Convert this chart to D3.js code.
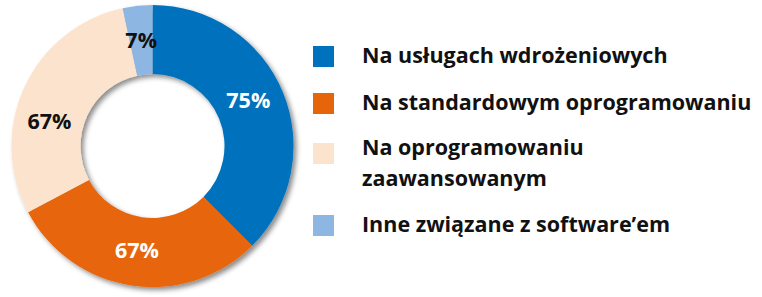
<!DOCTYPE html>
<html>
<head>
<meta charset="utf-8">
<script src="https://cdn.jsdelivr.net/npm/d3@7"></script>
<style>
  html, body { margin: 0; padding: 0; background: #fff; }
  svg { display: block; }
  text { font-family: "Open Sans", "Noto Sans", sans-serif; font-weight: 700; }
</style>
</head>
<body>
<svg id="chart" width="762" height="297"></svg>
<script>
// Category names (legend), label values and slice shares
const categories = [
  "Na usługach wdrożeniowych",
  "Na standardowym oprogramowaniu",
  "Na oprogramowaniu zaawansowanym",
  "Inne związane z software’em"
];
const labelValues = [75, 67, 67, 7];
const sliceShares = [37.5, 29.7, 29.4, 3.4];
const colors = ["#0071BC", "#E6650B", "#FCE3CD", "#8DB7E2"];
const legendLines = [
  ["Na usługach wdrożeniowych"],
  ["Na standardowym oprogramowaniu"],
  ["Na oprogramowaniu", "zaawansowanym"],
  ["Inne związane z software’em"]
];

const svg = d3.select("#chart");

const defs = svg.append("defs");
const f = defs.append("filter").attr("id", "shadow")
  .attr("x", "-10%").attr("y", "-10%").attr("width", "125%").attr("height", "125%");
f.append("feDropShadow").attr("dx", 3).attr("dy", 3).attr("stdDeviation", 2.5)
  .attr("flood-color", "#000").attr("flood-opacity", 0.45);

const cx = 152.5, cy = 146, rOuter = 141, rInner = 72;

const data = categories.map((c, i) => ({ name: c, share: sliceShares[i], label: labelValues[i], color: colors[i] }));

const pie = d3.pie().value(d => d.share).sort(null);
const arc = d3.arc().innerRadius(rInner).outerRadius(rOuter);
const arcs = pie(data);

const g = svg.append("g").attr("transform", `translate(${cx},${cy})`);
g.append("g").attr("filter", "url(#shadow)")
  .selectAll("path").data(arcs).join("path")
  .attr("d", arc)
  .attr("fill", d => d.data.color);

// labels
const labelArc = d3.arc().innerRadius(102).outerRadius(110);
const angleShift = [-0.05, 0, -0.2, 0.0];
g.selectAll("text.lbl").data(arcs).join("text")
  .attr("class", "lbl")
  .attr("transform", (d, i) => {
    const a = (d.startAngle + d.endAngle) / 2 + angleShift[i];
    const r = 106;
    return `translate(${r * Math.sin(a)},${-r * Math.cos(a) + 7.5})`;
  })
  .attr("text-anchor", "middle")
  .attr("font-size", 21.5)
  .attr("fill", (d, i) => (i < 2 ? "#fff" : "#111"))
  .text(d => d.data.label + "%");

// legend
const legendY = d3.scaleOrdinal().domain(categories).range([63, 110, 155, 232]);
const lg = svg.append("g");
const items = lg.selectAll("g").data(data).join("g");
items.append("rect")
  .attr("x", 313)
  .attr("y", d => legendY(d.name) - (d.name === categories[2] ? 12 : 17))
  .attr("width", 21).attr("height", 21)
  .attr("fill", d => d.color);
items.each(function(d, i) {
  const t = d3.select(this).append("text")
    .attr("x", 362).attr("y", legendY(d.name))
    .attr("font-size", 21.5).attr("fill", "#111");
  legendLines[i].forEach((line, j) => {
    t.append("tspan").attr("x", 362).attr("dy", j === 0 ? 0 : 31).text(line);
  });
});
</script>
</body>
</html>
